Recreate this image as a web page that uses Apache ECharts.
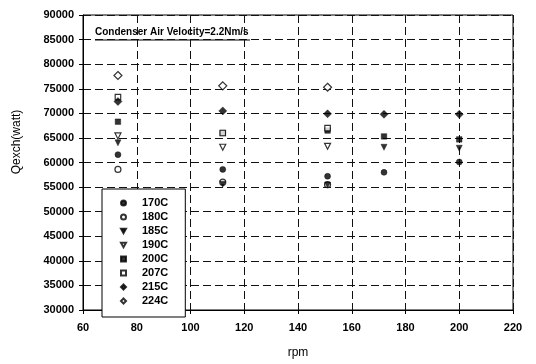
<!DOCTYPE html>
<html>
<head>
<meta charset="utf-8">
<script src="https://cdn.jsdelivr.net/npm/echarts@6/dist/echarts.min.js"></script>
<style>
  html, body { margin: 0; padding: 0; background: #fff; }
  #chart { width: 536px; height: 364px; }
</style>
</head>
<body>
<div id="chart"></div>
<script>
// Fan speed (rpm) at which each run was measured
const rpm = [73, 112, 151, 172, 200];

// Heat exchanged (W) per inlet temperature; null = not measured
const q170 = [61600, 58600, 57200, 58000, 60100];
const q180 = [58600, 56000, 55500, null, null];
const q185 = [64000, 55600, 55400, 63100, 62900];
const q190 = [65400, 63100, 63300, null, null];
const q200 = [68300, 66000, 66500, 65300, 64700];
const q207 = [73300, 66000, 67000, null, null];
const q215 = [72400, 70500, 69900, 69800, 69800];
const q224 = [77700, 75600, 75300, null, null];

const xTicks = { min: 60, max: 220, step: 20 };
const yTicks = { min: 30000, max: 90000, step: 5000 };

const FONT = 'Arial, "Liberation Sans", sans-serif';
const DOWN_TRI = 'path://M0,0 L10,0 L5,9 Z';

const styles = [
  { name: '170C', values: q170, symbol: 'circle',  open: false, size: 6 },
  { name: '180C', values: q180, symbol: 'circle',  open: true,  size: 6 },
  { name: '185C', values: q185, symbol: DOWN_TRI,  open: false, size: 6 },
  { name: '190C', values: q190, symbol: DOWN_TRI,  open: true,  size: 6 },
  { name: '200C', values: q200, symbol: 'rect',    open: false, size: 5.5 },
  { name: '207C', values: q207, symbol: 'rect',    open: true,  size: 5.5 },
  { name: '215C', values: q215, symbol: 'diamond', open: false, size: 8 },
  { name: '224C', values: q224, symbol: 'diamond', open: true,  size: 8 }
];

const series = styles.map(s => ({
  name: s.name,
  type: 'scatter',
  symbol: s.symbol,
  symbolSize: s.size,
  itemStyle: s.open
    ? { color: '#fff', borderColor: '#000', borderWidth: 1.2 }
    : { color: '#000', borderColor: '#000', borderWidth: 0.5 },
  data: rpm.map((x, i) => [x, s.values[i]]).filter(p => p[1] !== null)
}));

const gridDash = { color: '#111', width: 1, type: [8, 4] };

const chart = echarts.init(document.getElementById('chart'), null, { renderer: 'canvas' });
chart.setOption({
  animation: false,
  backgroundColor: '#fff',
  textStyle: { fontFamily: FONT },
  grid: {
    left: 83, right: 23, top: 15, bottom: 49,
    show: true, borderColor: '#000', borderWidth: 1
  },
  xAxis: {
    type: 'value',
    min: xTicks.min, max: xTicks.max, interval: xTicks.step,
    name: 'rpm',
    nameLocation: 'middle',
    nameGap: 37,
    nameTextStyle: { fontFamily: FONT, fontSize: 12, color: '#000' },
    axisLine: { lineStyle: { color: '#000', width: 1 } },
    axisTick: { show: true, length: 4, lineStyle: { color: '#000' } },
    axisLabel: { fontFamily: FONT, fontSize: 11, fontWeight: 'bold', color: '#000', margin: 12 },
    splitLine: { show: true, lineStyle: gridDash }
  },
  yAxis: {
    type: 'value',
    min: yTicks.min, max: yTicks.max, interval: yTicks.step,
    axisLine: { show: true, lineStyle: { color: '#000', width: 1 } },
    axisTick: { show: true, length: 4, lineStyle: { color: '#000' } },
    axisLabel: { fontFamily: FONT, fontSize: 11, fontWeight: 'bold', color: '#000', margin: 9,
                 formatter: v => String(v) },
    splitLine: { show: true, lineStyle: gridDash }
  },
  legend: {
    orient: 'vertical',
    left: 102, top: 189,
    backgroundColor: '#fff',
    borderColor: '#000', borderWidth: 1,
    padding: [8, 17, 10, 18],
    itemWidth: 5, itemHeight: 5,
    itemGap: 2,
    textStyle: { fontFamily: FONT, fontSize: 11, fontWeight: 'bold', color: '#000',
                 lineHeight: 12, padding: [0, 0, 0, 11] },
    data: styles.map(s => s.name)
  },
  graphic: [
    {
      type: 'text', left: 95, top: 27,
      style: { text: 'Condenser Air Velocity=2.2Nm/s', font: 'bold 10px ' + FONT, fill: '#000' }
    },
    {
      type: 'line',
      shape: { x1: 95, y1: 40, x2: 250, y2: 40 },
      style: { stroke: '#000', lineWidth: 1 }
    },
    {
      type: 'text', x: 17, y: 142, rotation: Math.PI / 2,
      style: { text: 'Qexch(watt)', font: '12px ' + FONT, fill: '#000',
               textAlign: 'center', textVerticalAlign: 'middle' }
    }
  ],
  series: series
});
</script>
</body>
</html>
